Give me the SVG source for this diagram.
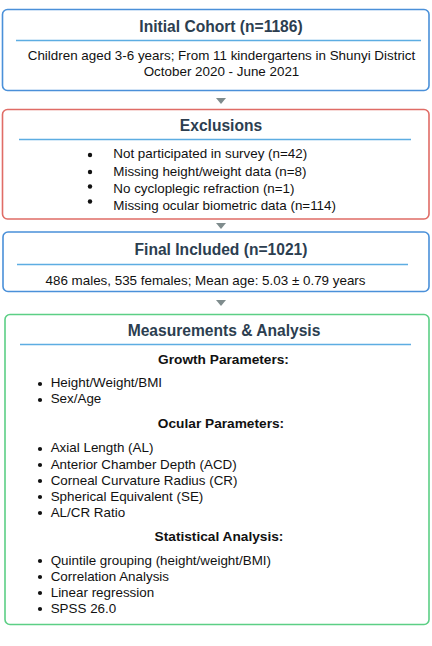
<svg xmlns="http://www.w3.org/2000/svg" width="432" height="646" viewBox="0 0 432 646">
<defs>
<style>
.box{fill:#ffffff;stroke-width:1.6}
.blue{stroke:#4a90d9}
.red{stroke:#e06c66}
.green{stroke:#5ccf85}
.div{stroke:#5dade2;stroke-width:1.6}
.title{font-family:"Liberation Sans",Arial,sans-serif;font-weight:bold;font-size:15.6px;fill:#2c3e50;text-anchor:middle}
.sub{font-family:"Liberation Sans",Arial,sans-serif;font-weight:bold;font-size:13.7px;fill:#111111;text-anchor:middle}
.body{font-family:"Liberation Sans",Arial,sans-serif;font-size:13.4px;fill:#111111}
.c{text-anchor:middle}
.dot{fill:#111111}
.arrow{fill:#7f8c8d}
</style>
</defs>
<rect width="432" height="646" fill="#ffffff"/>
<g id="connectors">
<polygon class="arrow" points="216,98 226,98 221,104"/>
<polygon class="arrow" points="216,223 226,223 221,229"/>
<polygon class="arrow" points="216,300 226,300 221,306"/>
</g>
<g id="initial-cohort">
<rect class="box blue" x="2.5" y="9.5" width="426.5" height="81" rx="5"/>
<text class="title" x="221" y="32">Initial Cohort (n=1186)</text>
<line class="div" x1="16" y1="40.5" x2="421" y2="40.5"/>
<text class="body c" x="221.5" y="60">Children aged 3-6 years; From 11 kindergartens in Shunyi District</text>
<text class="body c" x="221.5" y="76">October 2020 - June 2021</text>
</g>
<g id="exclusions">
<rect class="box red" x="2.5" y="109.5" width="426.5" height="109.5" rx="5"/>
<text class="title" x="221" y="131">Exclusions</text>
<line class="div" x1="19" y1="139.5" x2="411" y2="139.5"/>
<circle class="dot" cx="90" cy="155" r="2.2"/>
<circle class="dot" cx="90" cy="172" r="2.2"/>
<circle class="dot" cx="90" cy="186.5" r="2.2"/>
<circle class="dot" cx="90" cy="201.5" r="2.2"/>
<text class="body" x="113.3" y="158">Not participated in survey (n=42)</text>
<text class="body" x="113.3" y="175.5">Missing height/weight data (n=8)</text>
<text class="body" x="113.3" y="193">No cycloplegic refraction (n=1)</text>
<text class="body" x="113.3" y="210">Missing ocular biometric data (n=114)</text>
</g>
<g id="final-included">
<rect class="box blue" x="3" y="232" width="426" height="59.5" rx="5"/>
<text class="title" x="221" y="255">Final Included (n=1021)</text>
<line class="div" x1="17" y1="264.5" x2="408" y2="264.5"/>
<text class="body c" x="205.5" y="285">486 males, 535 females; Mean age: 5.03 ± 0.79 years</text>
</g>
<g id="measurements">
<rect class="box green" x="5" y="314.5" width="424" height="310" rx="5"/>
<text class="title" x="224" y="336">Measurements &amp; Analysis</text>
<line class="div" x1="20" y1="344.5" x2="411" y2="344.5"/>
<text class="sub" x="223.5" y="364">Growth Parameters:</text>
<circle class="dot" cx="40" cy="384" r="2.1"/>
<text class="body" x="50.7" y="387">Height/Weight/BMI</text>
<circle class="dot" cx="40" cy="400" r="2.1"/>
<text class="body" x="50.7" y="403">Sex/Age</text>
<text class="sub" x="221" y="428">Ocular Parameters:</text>
<circle class="dot" cx="40" cy="449" r="2.1"/>
<text class="body" x="50.7" y="452">Axial Length (AL)</text>
<circle class="dot" cx="40" cy="465" r="2.1"/>
<text class="body" x="50.7" y="468.5">Anterior Chamber Depth (ACD)</text>
<circle class="dot" cx="40" cy="481" r="2.1"/>
<text class="body" x="50.7" y="484.5">Corneal Curvature Radius (CR)</text>
<circle class="dot" cx="40" cy="497" r="2.1"/>
<text class="body" x="50.7" y="500.5">Spherical Equivalent (SE)</text>
<circle class="dot" cx="40" cy="513" r="2.1"/>
<text class="body" x="50.7" y="516.5">AL/CR Ratio</text>
<text class="sub" x="219" y="541">Statistical Analysis:</text>
<circle class="dot" cx="40" cy="561" r="2.1"/>
<text class="body" x="50.7" y="564.5">Quintile grouping (height/weight/BMI)</text>
<circle class="dot" cx="40" cy="577" r="2.1"/>
<text class="body" x="50.7" y="580.5">Correlation Analysis</text>
<circle class="dot" cx="40" cy="593" r="2.1"/>
<text class="body" x="50.7" y="596.5">Linear regression</text>
<circle class="dot" cx="40" cy="609" r="2.1"/>
<text class="body" x="50.7" y="612.5">SPSS 26.0</text>
</g>
</svg>
